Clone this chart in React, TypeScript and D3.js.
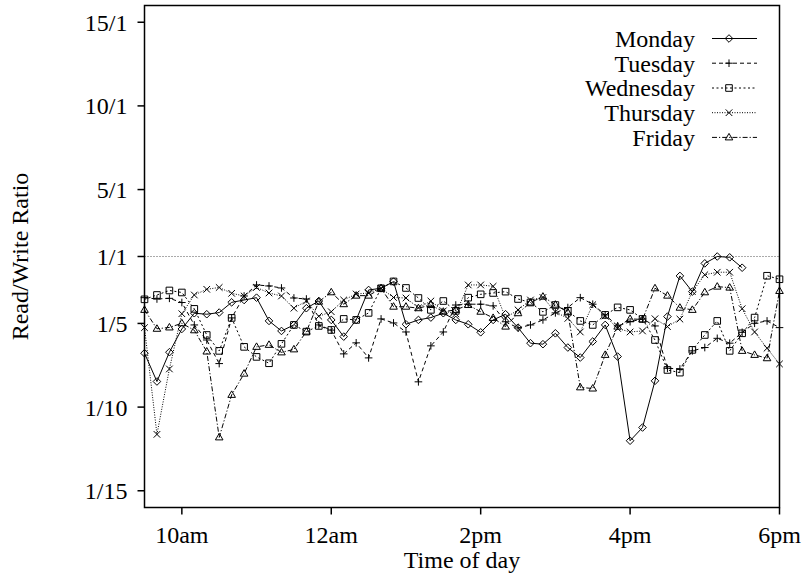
import React from "react";
import * as d3 from "d3";

// Sample times (every 10 minutes, 9:30 to 18:00)
const timeLabels = [
  "9:30", "9:40", "9:50", "10:00", "10:10", "10:20", "10:30", "10:40", "10:50",
  "11:00", "11:10", "11:20", "11:30", "11:40", "11:50",
  "12:00", "12:10", "12:20", "12:30", "12:40", "12:50",
  "13:00", "13:10", "13:20", "13:30", "13:40", "13:50",
  "14:00", "14:10", "14:20", "14:30", "14:40", "14:50",
  "15:00", "15:10", "15:20", "15:30", "15:40", "15:50",
  "16:00", "16:10", "16:20", "16:30", "16:40", "16:50",
  "17:00", "17:10", "17:20", "17:30", "17:40", "17:50", "18:00",
];

// Values on the symmetric ratio scale: 0 = 1/1, -4 = 1/5, -9 = 1/10, 4 = 5/1 ...
const monday = [-5.78, -7.47, -5.72, -4.33, -3.39, -3.45, -3.35, -2.74, -2.6, -2.46, -3.85, -4.45, -4.09, -3.09, -2.66, -3.79, -4.79, -3.79, -2.0, -1.9, -1.5, -4.05, -3.79, -3.65, -3.39, -3.79, -4.05, -4.53, -3.79, -3.45, -4.25, -5.18, -5.24, -4.59, -5.44, -6.04, -5.08, -4.09, -5.98, -11.01, -10.22, -7.43, -3.59, -1.16, -2.1, -0.41, 0.0, -0.05, -0.67];
const tuesday = [-2.46, -2.54, -2.5, -2.75, -4.09, -4.99, -6.4, -3.67, -2.36, -1.7, -1.76, -1.88, -2.48, -2.54, -4.09, -4.4, -5.82, -5.16, -6.06, -3.73, -3.97, -4.51, -7.49, -5.34, -4.51, -2.9, -2.85, -2.85, -2.95, -3.9, -4.27, -4.09, -3.79, -3.37, -3.05, -2.46, -2.85, -3.49, -4.15, -3.9, -3.73, -4.15, -6.68, -6.72, -5.64, -5.44, -4.89, -5.18, -4.53, -3.99, -3.85, -4.25];
const wednesday = [-2.56, -2.3, -2.03, -2.15, -3.13, -4.69, -5.64, -3.67, -5.4, -6.0, -6.38, -5.22, -4.09, -4.49, -4.15, -4.39, -3.73, -3.79, -3.37, -1.9, -1.49, -1.88, -2.48, -3.19, -2.66, -3.25, -2.46, -2.26, -2.18, -2.1, -2.54, -2.75, -3.31, -2.9, -3.25, -3.85, -4.09, -3.49, -3.04, -3.19, -3.73, -4.99, -6.78, -6.94, -5.58, -4.69, -3.85, -5.64, -4.59, -3.65, -1.15, -1.36];
const thursday = [-4.25, -10.63, -6.72, -3.42, -2.3, -1.96, -1.85, -2.2, -2.36, -1.85, -2.18, -2.36, -3.09, -2.66, -3.57, -3.3, -2.6, -2.24, -2.18, -1.9, -2.45, -2.48, -3.07, -2.66, -3.25, -3.43, -1.7, -1.7, -1.78, -3.67, -3.19, -2.6, -2.45, -3.31, -3.7, -4.51, -2.88, -3.55, -4.3, -4.51, -4.45, -3.72, -4.19, -3.74, -2.1, -1.09, -0.94, -0.94, -3.12, -4.51, -5.48, -6.42];
const friday = [-3.19, -4.32, -4.24, -3.99, -4.41, -5.68, -10.81, -8.27, -7.0, -5.4, -5.28, -5.73, -5.55, -4.49, -2.7, -2.14, -2.85, -2.34, -2.34, -1.9, -3.0, -3.0, -3.09, -2.9, -3.3, -3.19, -2.9, -3.3, -3.67, -4.19, -3.39, -2.75, -2.4, -2.88, -3.34, -7.82, -7.89, -5.88, -4.19, -3.73, -3.76, -1.9, -2.34, -3.06, -3.19, -2.14, -1.8, -1.86, -5.64, -5.88, -6.08, -2.06];

const seriesNames = ["Monday", "Tuesday", "Wednesday", "Thursday", "Friday"];
const seriesValues = [monday, tuesday, wednesday, thursday, friday];

const yTickValues = [-14, -9, -4, 0, 4, 9, 14];
const yTickLabels = ["1/15", "1/10", "1/5", "1/1", "5/1", "10/1", "15/1"];
const xTickValues = [10, 12, 14, 16, 18];
const xTickLabels = ["10am", "12am", "2pm", "4pm", "6pm"];

const dashes = ["none", "4,3", "2,2.5", "1,1.5", "5,2,1.2,2"];
const markers = ["diamond", "plus", "square", "cross", "triangle"];

const FONT = "'Liberation Serif', 'Times New Roman', serif";

function markerPath(kind: string): string {
  const r = 3.8;
  switch (kind) {
    case "diamond":
      return `M0,${-r}L${r},0L0,${r}L${-r},0Z`;
    case "plus":
      return `M${-r},0H${r}M0,${-r}V${r}`;
    case "square":
      return `M-3.3,-3.3H3.3V3.3H-3.3Z`;
    case "cross":
      return `M-3.3,-3.3L3.3,3.3M-3.3,3.3L3.3,-3.3`;
    case "triangle":
      return `M0,-4L3.8,2.5L-3.8,2.5Z`;
  }
  return "";
}

function parseTime(s: string): number {
  const [h, m] = s.split(":").map(Number);
  return h + m / 60;
}

export default function App() {
  const left = 144.5, right = 779.5, top = 5.5, bottom = 507.5;
  const x = d3.scaleLinear().domain([9.5, 18]).range([left, right]);
  const y = d3.scaleLinear().domain([-15, 15]).range([bottom, top]);
  const times = timeLabels.map(parseTime);

  const line = d3
    .line<number>()
    .x((_, i) => x(times[i]))
    .y((d) => y(d));

  const legendRows = [38.5, 63.2, 88, 112.7, 137.4];

  return (
    <svg
      width={806}
      height={575}
      style={{ position: "absolute", left: 0, top: 0, background: "#fff" }}
      fontFamily={FONT}
    >
      <rect x={0} y={0} width={806} height={575} fill="#fff" />
      {/* 1/1 reference line */}
      <line
        x1={left}
        x2={right}
        y1={y(0)}
        y2={y(0)}
        stroke="#555"
        strokeWidth={1}
        strokeDasharray="1,2"
      />
      {/* series */}
      {seriesValues.map((vals, si) => (
        <g key={seriesNames[si]}>
          <path
            d={line(vals) || ""}
            fill="none"
            stroke="#000"
            strokeWidth={1}
            strokeDasharray={dashes[si]}
          />
          {vals.map((v, i) => (
            <path
              key={i}
              transform={`translate(${x(times[i])},${y(v)})`}
              d={markerPath(markers[si])}
              fill="none"
              stroke="#000"
              strokeWidth={1}
            />
          ))}
        </g>
      ))}
      {/* frame */}
      <rect
        x={left}
        y={top}
        width={right - left}
        height={bottom - top}
        fill="none"
        stroke="#000"
        strokeWidth={1.5}
      />
      {/* y ticks */}
      {yTickValues.map((v, i) => (
        <g key={"y" + i}>
          <line x1={left - 7} x2={left} y1={y(v)} y2={y(v)} stroke="#000" strokeWidth={1.5} />
          <text
            x={left - 17}
            y={y(v)}
            dy="0.35em"
            textAnchor="end"
            fontSize={24}
            fill="#000"
          >
            {yTickLabels[i]}
          </text>
        </g>
      ))}
      {/* x ticks */}
      {xTickValues.map((v, i) => (
        <g key={"x" + i}>
          <line x1={x(v)} x2={x(v)} y1={bottom} y2={bottom + 7} stroke="#000" strokeWidth={1.5} />
          <text x={x(v)} y={543} textAnchor="middle" fontSize={24} fill="#000">
            {xTickLabels[i]}
          </text>
        </g>
      ))}
      {/* axis titles */}
      <text x={(left + right) / 2} y={568} textAnchor="middle" fontSize={24} fill="#000">
        Time of day
      </text>
      <text
        transform={`translate(28,${(top + bottom) / 2}) rotate(-90)`}
        textAnchor="middle"
        fontSize={24}
        fill="#000"
      >
        Read/Write Ratio
      </text>
      {/* legend */}
      {seriesNames.map((name, si) => (
        <g key={"lg" + si}>
          <text
            x={695}
            y={legendRows[si]}
            dy="0.35em"
            textAnchor="end"
            fontSize={24}
            fill="#000"
          >
            {name}
          </text>
          <line
            x1={712}
            x2={757}
            y1={legendRows[si]}
            y2={legendRows[si]}
            stroke="#000"
            strokeWidth={1}
            strokeDasharray={dashes[si]}
          />
          <path
            transform={`translate(729,${legendRows[si]})`}
            d={markerPath(markers[si])}
            fill="none"
            stroke="#000"
            strokeWidth={1}
          />
        </g>
      ))}
    </svg>
  );
}
